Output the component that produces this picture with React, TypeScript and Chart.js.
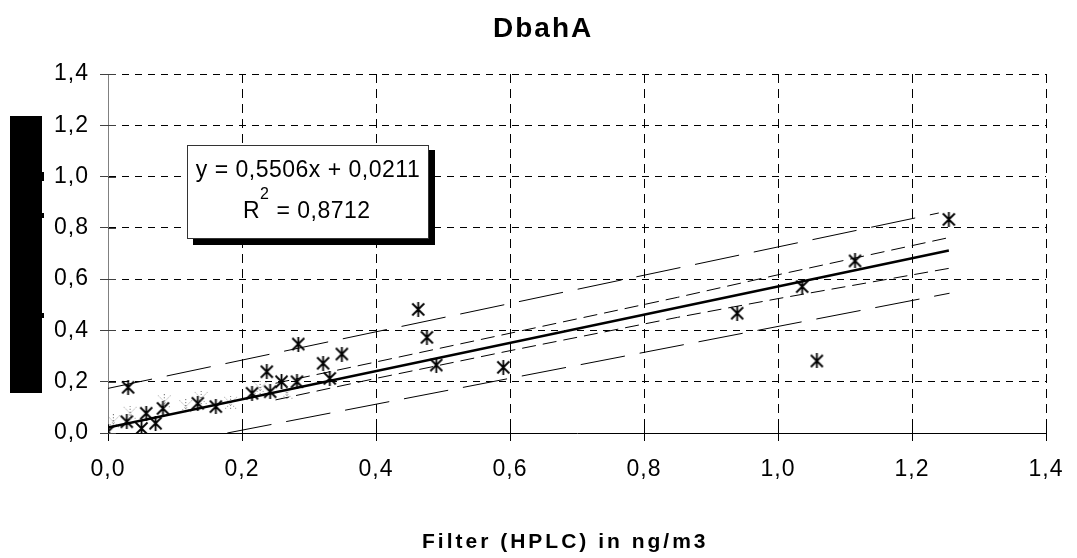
import React, { useEffect, useRef } from 'react';
import { Chart, registerables } from 'chart.js';

Chart.register(...registerables);

// ---- text ----
const TITLE = 'DbahA';
const X_TITLE = 'Filter (HPLC) in ng/m3';
const EQ_LINE1 = 'y = 0,5506x + 0,0211';
const EQ_R = 'R';
const EQ_SUP = '2';
const EQ_REST = ' = 0,8712';

// ---- axis ticks ----
const tickValues = [0, 0.2, 0.4, 0.6, 0.8, 1.0, 1.2, 1.4];

// ---- observed points ----
const obsX = [0.0, 0.03, 0.028, 0.05, 0.071, 0.057, 0.082, 0.134, 0.161, 0.215, 0.237, 0.242, 0.259, 0.282, 0.284, 0.321, 0.331, 0.349, 0.463, 0.476, 0.49, 0.59, 0.939, 1.036, 1.058, 1.115, 1.255];
const obsY = [0.005, 0.178, 0.044, 0.018, 0.038, 0.077, 0.096, 0.116, 0.103, 0.155, 0.239, 0.161, 0.2, 0.2, 0.347, 0.272, 0.213, 0.308, 0.482, 0.373, 0.265, 0.256, 0.467, 0.571, 0.281, 0.671, 0.833];

// faint (partly rendered) points
const faintX = [0.008, 0.033, 0.084, 0.116, 0.139, 0.183, 0.227, 0.267];
const faintY = [0.044, 0.077, 0.122, 0.103, 0.135, 0.116, 0.174, 0.155];

// ---- regression line ----
const fitX = [0.0, 1.255];
const fitY = [0.0211, 0.712];

// ---- confidence band (short dashes) ----
const ciX = [0.25, 0.4, 0.6, 0.85, 1.0, 1.255];
const ciUpper = [0.194, 0.277, 0.389, 0.529, 0.617, 0.762];
const ciLower = [0.129, 0.213, 0.321, 0.451, 0.524, 0.642];

// ---- prediction band (long dashes) ----
const piUpperX = [0.0, 1.24];
const piUpperY = [0.174, 0.858];
const piLowerX = [0.178, 1.256];
const piLowerY = [0.0, 0.545];

const FONT = "'Liberation Sans', Arial, sans-serif";

const zip = (xs: number[], ys: number[]) => xs.map((x, i) => ({ x, y: ys[i] }));
const fmt = (v: number) => Number(v).toFixed(1).replace('.', ',');

function makeStar(color: string, faint: boolean): HTMLCanvasElement {
  const c = document.createElement('canvas');
  c.width = 15;
  c.height = 15;
  const g = c.getContext('2d')!;
  g.strokeStyle = color;
  g.lineWidth = faint ? 1 : 1.8;
  if (faint) g.setLineDash([1, 2]);
  g.beginPath();
  g.moveTo(1.5, 1.5);
  g.lineTo(13.5, 13.5);
  g.moveTo(13.5, 1.5);
  g.lineTo(1.5, 13.5);
  g.moveTo(7.5, 0);
  g.lineTo(7.5, 15);
  g.stroke();
  return c;
}

const decor = {
  id: 'decor',
  beforeDraw(chart: any) {
    (chart.ctx as any).letterSpacing = '1px';
  },
  afterDraw(chart: any) {
    const ctx = chart.ctx as CanvasRenderingContext2D;
    const area = chart.chartArea;
    const xs = chart.scales.x;
    const ys = chart.scales.y;
    ctx.save();
    (ctx as any).letterSpacing = '0px';
    // inner halves of cross tick marks
    ctx.lineWidth = 1;
    ctx.strokeStyle = '#404040';
    ctx.beginPath();
    tickValues.forEach((v) => {
      const py = Math.round(ys.getPixelForValue(v)) + 0.5;
      ctx.moveTo(area.left, py);
      ctx.lineTo(area.left + 8, py);
    });
    ctx.stroke();
    ctx.strokeStyle = '#000';
    ctx.beginPath();
    tickValues.forEach((v) => {
      const px = Math.round(xs.getPixelForValue(v)) + 0.5;
      ctx.moveTo(px, area.bottom);
      ctx.lineTo(px, area.bottom - 8);
    });
    ctx.stroke();

    // black block (covered y-axis title)
    ctx.fillStyle = '#000';
    ctx.fillRect(10, 116, 32, 277);
    ctx.fillRect(42, 172, 2, 9);
    ctx.fillRect(42, 213, 2, 5);
    ctx.fillRect(42, 313, 2, 5);

    // equation box
    const bx = 187, by = 145, bw = 242, bh = 94;
    ctx.fillStyle = '#000';
    ctx.fillRect(bx + 6, by + 5, bw, bh + 1);
    ctx.fillStyle = '#fff';
    ctx.fillRect(bx, by, bw, bh);
    ctx.strokeStyle = '#333';
    ctx.lineWidth = 1;
    ctx.strokeRect(bx + 0.5, by + 0.5, bw - 1, bh - 1);
    ctx.fillStyle = '#000';
    ctx.textBaseline = 'alphabetic';
    ctx.textAlign = 'left';
    (ctx as any).letterSpacing = '0.5px';
    ctx.font = `23px ${FONT}`;
    const w1 = ctx.measureText(EQ_LINE1).width;
    ctx.fillText(EQ_LINE1, bx + bw / 2 - w1 / 2, 177);
    let tx = 243;
    ctx.fillText(EQ_R, tx, 218);
    tx += ctx.measureText(EQ_R).width;
    ctx.font = `16px ${FONT}`;
    ctx.fillText(EQ_SUP, tx, 199);
    tx += ctx.measureText(EQ_SUP).width;
    ctx.font = `23px ${FONT}`;
    ctx.fillText(EQ_REST, tx, 218);

    // chart title
    (ctx as any).letterSpacing = '2px';
    ctx.font = `bold 28px ${FONT}`;
    ctx.fillText(TITLE, 493, 37);

    // x-axis title
    (ctx as any).letterSpacing = '3px';
    ctx.font = `bold 21px ${FONT}`;
    ctx.fillText(X_TITLE, 422, 548);
    ctx.restore();
    (ctx as any).letterSpacing = '0px';
  },
};

export default function App() {
  const ref = useRef<HTMLCanvasElement>(null);
  useEffect(() => {
    const star = makeStar('#000', false);
    const ghost = makeStar('#666', true);
    const lineDs = (data: any[], width: number, dash: number[]) => ({
      data,
      showLine: true,
      borderColor: '#000',
      borderWidth: width,
      borderDash: dash,
      pointRadius: 0,
      fill: false,
      tension: 0,
    });
    const chart = new Chart(ref.current!, {
      type: 'scatter',
      data: {
        datasets: [
          lineDs(zip(piUpperX, piUpperY), 1, [45, 15]),
          lineDs(zip(piLowerX, piLowerY), 1, [45, 15]),
          lineDs(zip(ciX, ciUpper), 1, [14, 7]),
          lineDs(zip(ciX, ciLower), 1, [14, 7]),
          lineDs(zip(fitX, fitY), 2.6, []),
          {
            data: zip(faintX, faintY),
            pointStyle: ghost as any,
            showLine: false,
          },
          {
            data: zip(obsX, obsY),
            pointStyle: star as any,
            showLine: false,
          },
        ],
      },
      options: {
        animation: false,
        responsive: false,
        events: [],
        layout: { padding: { left: 0, right: 23, top: 74, bottom: 0 }, autoPadding: false },
        plugins: {
          legend: { display: false },
          title: { display: false },
          tooltip: { enabled: false },
        },
        scales: {
          x: {
            type: 'linear',
            min: 0,
            max: 1.4,
            afterBuildTicks: (s: any) => {
              s.ticks = tickValues.map((v) => ({ value: v }));
            },
            afterFit: (s: any) => {
              s.height = 125;
            },
            ticks: {
              callback: (v: any) => fmt(v),
              color: '#000',
              font: { family: FONT, size: 23 },
              padding: 15,
              maxRotation: 0,
              autoSkip: false,
            },
            grid: {
              color: (c: any) => (c.tick && c.tick.value === 0 ? 'rgba(0,0,0,0)' : '#000'),
              lineWidth: 1,
              tickLength: 8,
              tickColor: '#000',
              tickBorderDash: [],
              drawTicks: true,
            },
            border: { display: true, color: '#000', width: 1, dash: [9, 6] },
          },
          y: {
            type: 'linear',
            min: 0,
            max: 1.4,
            afterBuildTicks: (s: any) => {
              s.ticks = tickValues.map((v) => ({ value: v }));
            },
            afterFit: (s: any) => {
              s.width = 108;
            },
            ticks: {
              callback: (v: any) => fmt(v),
              color: '#000',
              font: { family: FONT, size: 23 },
              padding: 11,
              autoSkip: false,
            },
            grid: {
              color: (c: any) => (c.tick && c.tick.value === 0 ? 'rgba(0,0,0,0)' : '#000'),
              lineWidth: 1,
              tickLength: 8,
              tickColor: '#404040',
              tickBorderDash: [],
              drawTicks: true,
            },
            border: { display: true, color: '#808080', width: 1, dash: [7, 6] },
          },
        },
      },
      plugins: [decor],
    });
    return () => chart.destroy();
  }, []);
  return (
    <div style={{ position: 'absolute', left: 0, top: 0, width: 1077, height: 558, background: '#fff' }}>
      <canvas ref={ref} width={1077} height={558} />
    </div>
  );
}
